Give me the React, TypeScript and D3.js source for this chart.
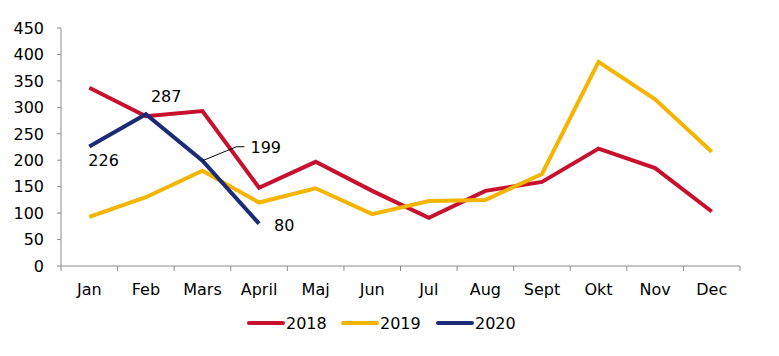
import React from "react";
import * as d3 from "d3";

const months = ["Jan", "Feb", "Mars", "April", "Maj", "Jun", "Jul", "Aug", "Sept", "Okt", "Nov", "Dec"];
const s2018 = [337, 283, 293, 148, 197, 142, 91, 142, 159, 222, 185, 103];
const s2019 = [93, 130, 180, 120, 147, 98, 123, 125, 174, 386, 315, 216];
const s2020 = [226, 287, 199, 80];
const yTicks = [0, 50, 100, 150, 200, 250, 300, 350, 400, 450];
const seriesNames = ["2018", "2019", "2020"];
const colors = ["#C8102E", "#F5B400", "#1C2A78"];

const W = 779, H = 356;
const left = 61, right = 740, top = 28, bottom = 266;
const FONT = "DejaVu Sans, Verdana, sans-serif";

export default function App() {
  const x = d3.scaleBand<string>().domain(months).range([left, right]).padding(0);
  const y = d3.scaleLinear().domain([0, 450]).range([bottom, top]);
  const cx = (i: number) => (x(months[i]) as number) + x.bandwidth() / 2;
  const line = d3.line<number>().x((_, i) => cx(i)).y((d) => y(d));
  const series = [s2018, s2019, s2020];
  const legendX = [249, 343, 438];

  const lbl = [
    { i: 0, dx: -1, dy: 20 },
    { i: 1, dx: 5, dy: -12 },
    { i: 3, dx: 15, dy: 7 },
  ];
  const p199x = cx(2), p199y = y(s2020[2]);

  return (
    <svg width={W} height={H} style={{ position: "absolute", left: 0, top: 0 }} fontFamily={FONT}>
      <rect width={W} height={H} fill="#fff" />
      <line x1={left} x2={left} y1={top} y2={bottom} stroke="#8c8c8c" strokeWidth={1} />
      {yTicks.map((t) => (
        <g key={t}>
          <line x1={left - 4} x2={left} y1={y(t)} y2={y(t)} stroke="#8c8c8c" />
          <text x={44} y={y(t)} dy="0.36em" textAnchor="end" fontSize={16} fill="#000">{t}</text>
        </g>
      ))}
      <line x1={left} x2={right} y1={bottom} y2={bottom} stroke="#8c8c8c" strokeWidth={1} />
      {months.map((m, i) => (
        <g key={m}>
          <line x1={x(m) as number} x2={x(m) as number} y1={bottom} y2={bottom + 5} stroke="#8c8c8c" />
          <text x={cx(i)} y={295} textAnchor="middle" fontSize={16} fill="#000">{m}</text>
        </g>
      ))}
      <line x1={right} x2={right} y1={bottom} y2={bottom + 5} stroke="#8c8c8c" />
      {series.map((s, k) => (
        <path key={k} d={line(s) as string} fill="none" stroke={colors[k]} strokeWidth={4} strokeLinejoin="miter" />
      ))}
      {lbl.map((l) => (
        <text key={l.i} x={cx(l.i) + l.dx} y={y(s2020[l.i]) + l.dy} fontSize={16} fill="#000">{s2020[l.i]}</text>
      ))}
      <polyline points={`${p199x},${p199y} ${p199x + 34},${p199y - 14} ${p199x + 42},${p199y - 14}`} fill="none" stroke="#000" strokeWidth={1} />
      <text x={p199x + 48} y={p199y - 8} fontSize={16} fill="#000">{s2020[2]}</text>
      {seriesNames.map((n, k) => (
        <g key={n}>
          <line x1={legendX[k]} x2={legendX[k] + 34} y1={323} y2={323} stroke={colors[k]} strokeWidth={4} strokeLinecap="round" />
          <text x={legendX[k] + 37} y={323} dy="0.36em" fontSize={16} fill="#000">{n}</text>
        </g>
      ))}
    </svg>
  );
}
